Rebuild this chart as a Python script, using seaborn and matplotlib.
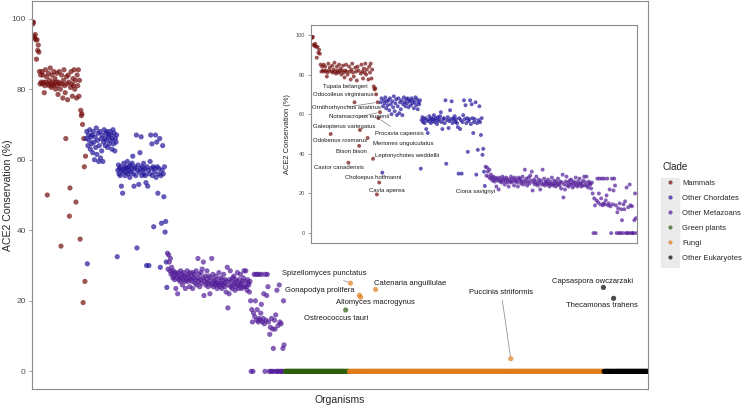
import matplotlib
matplotlib.use("Agg")
import matplotlib.pyplot as plt
from matplotlib.patches import Rectangle
import numpy as np
import pandas as pd
import seaborn as sns

CLADES = ["Mammals", "Other Chordates", "Other Metazoans",
          "Green plants", "Fungi", "Other Eukaryotes"]
CLADE_COLORS = ["#730d0d", "#22159a", "#521c98", "#2b5e0c", "#e07d1b", "#000000"]

# ACE2 conservation (%) per organism, in plotting order
MAMMALS = [
    99, 98.5, 99, 95, 94.5, 95.5, 94, 88.5, 94, 91, 92.5, 90.5, 85, 81.5, 84,
    82, 85, 81.5, 84, 82, 79, 81, 85.5, 82, 83.5,
    50, 81.5, 84.5, 81, 82.5, 86, 81.5, 80.5, 84, 82,
    81, 85, 81.5, 83, 80, 82, 84.5, 81, 78.5, 82,
    85, 81.5, 80, 35.5, 84, 81.5, 77.5, 82.5, 85.5, 81,
    79, 66, 83.5, 81.5, 77, 84, 82, 44, 52, 80.5,
    85, 81.5, 78, 83, 81, 85.5, 80, 82.5, 48, 77.5,
    84, 81, 85.5, 78, 82.5, 37.5, 74, 72.5, 73, 70,
    19.5, 66, 58, 25.5, 61,
]
OTHER_CHORDATES = [
    66, 68, 30.5, 64, 67, 65.5, 68.5, 63, 66.5, 64.5,
    67, 62, 68, 65, 60, 66.5, 63.5, 69, 61.5, 65.5,
    67.5, 59.5, 64, 68, 60.5, 66, 62.5, 67, 59.5, 65,
    68.5, 66, 64, 67.5, 65.5, 68, 63.5, 66.5, 67, 64.5,
    68, 65.5, 67, 63, 66, 68.5, 64.5, 67.5, 62.5, 66, 65, 67, 32.5,
    57, 58.5, 56, 57.5, 55.5, 58, 52.5, 57, 50.5, 56.5,
    59, 57.5, 55.5, 58, 56.5, 57.5, 59.5, 56, 58, 57,
    55, 58.5, 56.5, 57.5, 59, 61, 56, 52.5, 57.5, 58,
    55.5, 67, 35, 57, 58.5, 53, 56.5, 62, 57.5, 66.5,
    55.5, 58, 57, 59, 56, 57.5, 55.5, 53.5, 30, 58,
    52.5, 57, 30, 56, 59.5, 67, 57.5, 64.5, 55.5, 58,
    41, 56.5, 57.5, 67, 55, 65, 58, 50.5, 56, 57.5,
    66, 29.5, 55.5, 42, 57, 64, 56, 49.5, 58, 39.5, 42.5, 31, 23.8,
]
OTHER_METAZOANS = [
    33.5, 29, 33, 31, 28.5, 32, 27.5, 29.5, 28, 26.5,
    28.5, 27, 26, 28, 23.5, 27.5, 26.5, 22, 28, 26,
    27, 25.5, 28.5, 26.5, 27.5, 24.5, 26, 28, 27, 25.5,
    23.5, 27, 26, 28.5, 25.5, 27.5, 26.5, 24, 28, 26,
    27, 25.5, 23.5, 28, 26.5, 27.5, 25, 26, 28.5, 24.5,
    26.5, 32, 25.5, 27.5, 24, 26, 28, 25, 29, 26.5,
    31, 21.5, 25.5, 27, 24.5, 26, 28.5, 25, 24, 27,
    25.5, 22, 26.5, 24.5, 32, 25, 27.5, 24, 26, 25.5,
    24.5, 27, 25, 23.5, 26, 24.5, 28, 25, 24, 26.5,
    25, 23.5, 26, 24.5, 27.5, 25, 24, 26, 22.5, 25.5,
    29.5, 18, 24.5, 22, 26, 28.5, 24, 25.5, 23.5, 26.5,
    24.5, 27, 25, 23, 26, 24, 25.5, 28, 24.5, 23.5,
    26, 24.5, 27.5, 25, 23.5, 25.5, 24, 26.5, 28.5, 24,
    25.5, 28.5, 24, 23, 26, 25, 24.5, 22.5, 25.5, 20,
    0, 17.5, 14, 0, 16.5, 27.5, 15.5, 20, 27.5, 14.5,
    17.5, 27.5, 14, 15, 27.5, 14.5, 16.5, 19, 27.5, 14,
    15, 22, 13.5, 0, 27.5, 14.5, 21.5, 27.5, 24, 14,
    0, 10.5, 12.5, 0, 15, 0, 12, 6.5, 0, 14.5,
    12, 16, 0, 23, 0, 13, 0, 24.5, 14, 0,
    13.5, 0, 0, 6.5, 20, 7.5, 0,
]
# clades where almost every organism has no ACE2 ortholog (0 %)
N_GREEN_PLANTS = 107
N_FUNGI = 425
N_OTHER_EUKARYOTES = 75

# the few exceptions in those clades (rank inside the clade)
HIT_NAMES = ["Ostreococcus tauri", "Spizellomyces punctatus", "Gonapodya prolifera",
             "Allomyces macrogynus", "Catenaria anguillulae", "Puccinia striiformis",
             "Capsaspora owczarzaki", "Thecamonas trahens"]
HIT_CLADES = ["Green plants", "Fungi", "Fungi", "Fungi", "Fungi", "Fungi",
              "Other Eukaryotes", "Other Eukaryotes"]
HIT_RANKS = [101, 2, 17, 19, 44, 270, 0, 17]
HIT_VALUES = [17.4, 25.0, 21.6, 21.0, 23.2, 3.6, 23.8, 20.7]

# organisms named in the inset (rank inside the clade)
INSET_NAMES = ["Tupaia belangeri", "Odocoileus virginianus", "Ornithorhynchus anatinus",
               "Notamacropus eugenii", "Galeopterus variegatus", "Procavia capensis",
               "Odobenus rosmarus", "Meriones unguiculatus", "Bison bison",
               "Leptonychotes weddellii", "Castor canadensis", "Choloepus hoffmanni",
               "Cavia aperea", "Ciona savignyi"]
INSET_CLADES = ["Mammals"] * 13 + ["Other Chordates"]
INSET_RANKS = [83, 56, 86, 89, 63, 87, 25, 73, 62, 80, 48, 88, 85, 135]

# label placement (data coords) - layout only
MAIN_LABEL_XY = {
    "Spizellomyces punctatus": (490, 27.8), "Gonapodya prolifera": (482, 23.0),
    "Allomyces macrogynus": (574, 19.4), "Ostreococcus tauri": (509, 15.1),
    "Catenaria anguillulae": (633, 25.0), "Puccinia striiformis": (785, 22.4),
    "Capsaspora owczarzaki": (937, 25.5), "Thecamonas trahens": (954, 18.8),
}
MAIN_SEGMENTS = {"Spizellomyces punctatus", "Puccinia striiformis"}
INSET_LABEL_XY = {
    "Tupaia belangeri": (44.5, 74.2), "Odocoileus virginianus": (42, 69.7),
    "Ornithorhynchus anatinus": (47, 63.6), "Notamacropus eugenii": (62.6, 58.6),
    "Galeopterus variegatus": (43.2, 54), "Procavia capensis": (115.7, 50.5),
    "Odobenus rosmarus": (38, 46.5), "Meriones unguiculatus": (119.6, 45),
    "Bison bison": (53.6, 41.4), "Leptonychotes weddellii": (124.8, 39.4),
    "Castor canadensis": (36.7, 33.3), "Choloepus hoffmanni": (80.8, 27.8),
    "Cavia aperea": (98.9, 21.7), "Ciona savignyi": (214, 21.2),
}
INSET_SEGMENTS = {"Tupaia belangeri", "Ornithorhynchus anatinus",
                  "Notamacropus eugenii", "Procavia capensis"}


def build_frame():
    zero_counts = {"Green plants": N_GREEN_PLANTS, "Fungi": N_FUNGI,
                   "Other Eukaryotes": N_OTHER_EUKARYOTES}
    values = {"Mammals": list(MAMMALS), "Other Chordates": list(OTHER_CHORDATES),
              "Other Metazoans": list(OTHER_METAZOANS)}
    for clade, n in zero_counts.items():
        values[clade] = list(np.zeros(n))
    names = {c: [""] * len(v) for c, v in values.items()}
    for name, clade, rank, val in zip(HIT_NAMES, HIT_CLADES, HIT_RANKS, HIT_VALUES):
        values[clade][rank] = val
        names[clade][rank] = name
    for name, clade, rank in zip(INSET_NAMES, INSET_CLADES, INSET_RANKS):
        names[clade][rank] = name

    frames = []
    for clade in CLADES:
        frames.append(pd.DataFrame({"clade": clade, "conservation": values[clade],
                                    "name": names[clade]}))
    df = pd.concat(frames, ignore_index=True)
    df["organism"] = np.arange(1, len(df) + 1)
    return df


def label_points(ax, df, label_xy, segments, size):
    for name, (tx, ty) in label_xy.items():
        row = df[df.name == name].iloc[0]
        arrow = None
        if name in segments:
            arrow = dict(arrowstyle="-", color="#808080", lw=0.5, shrinkA=1, shrinkB=2)
        ax.annotate(name, xy=(row.organism, row.conservation), xytext=(tx, ty),
                    ha="center", va="center", fontsize=size, color="#1a1a1a",
                    arrowprops=arrow, annotation_clip=False)


def style_frame(ax, tick_size, label_size):
    for spine in ax.spines.values():
        spine.set_visible(True)
        spine.set_color("#8c8c8c")
        spine.set_linewidth(0.8)
    ax.set_yticks([0, 20, 40, 60, 80, 100])
    ax.set_xticks([])
    ax.tick_params(axis="y", left=True, length=2.5, width=0.6, color="#8c8c8c",
                   labelsize=tick_size, labelcolor="#4d4d4d", pad=2)
    ax.set_ylabel("ACE2 Conservation (%)", fontsize=label_size, labelpad=3)
    ax.grid(False)


def main():
    sns.set_theme(style="white")
    plt.rcParams["font.family"] = ["Liberation Sans", "DejaVu Sans"]

    df = build_frame()
    n = len(df)

    fig = plt.figure(figsize=(7.47, 4.11), dpi=100)
    ax = fig.add_axes([32 / 747, 22 / 411, 616 / 747, 388 / 411])
    sns.scatterplot(data=df, x="organism", y="conservation", hue="clade",
                    hue_order=CLADES, palette=CLADE_COLORS, s=14, alpha=0.7,
                    linewidth=0, ax=ax)
    ax.set_xlim(0.5, n + 0.5)
    ax.set_ylim(-5, 105)
    style_frame(ax, 6, 7.6)
    ax.yaxis.set_label_coords(-0.031, 0.5)
    ax.set_xlabel("Organisms", fontsize=7.5, labelpad=4)
    label_points(ax, df, MAIN_LABEL_XY, MAIN_SEGMENTS, 5.5)

    sns.move_legend(ax, "center left", bbox_to_anchor=(1.012, 0.457), frameon=False,
                    title="Clade", fontsize=5.5, title_fontsize=7,
                    handletextpad=0.6, labelspacing=1.0, markerscale=0.8)
    ax.get_legend()._legend_box.align = "left"
    fig.patches.append(Rectangle((661 / 747, 144 / 411), 18 / 747, 89 / 411,
                                 transform=fig.transFigure, color="#ebebeb", zorder=-1))

    # inset: zoom on the metazoans
    inset_df = df[df.clade.isin(CLADES[:3])]
    ax_in = fig.add_axes([311 / 747, 168 / 411, 326 / 747, 218 / 411])
    sns.scatterplot(data=inset_df, x="organism", y="conservation", hue="clade",
                    hue_order=CLADES, palette=CLADE_COLORS, s=8, alpha=0.7,
                    linewidth=0, ax=ax_in, legend=False)
    ax_in.set_xlim(0.5, len(inset_df) + 0.5)
    ax_in.set_ylim(-5, 105)
    style_frame(ax_in, 4, 5.4)
    ax_in.set_xlabel("")
    label_points(ax_in, inset_df, INSET_LABEL_XY, INSET_SEGMENTS, 4.3)

    fig.savefig("out.png", dpi=100)


if __name__ == "__main__":
    main()
